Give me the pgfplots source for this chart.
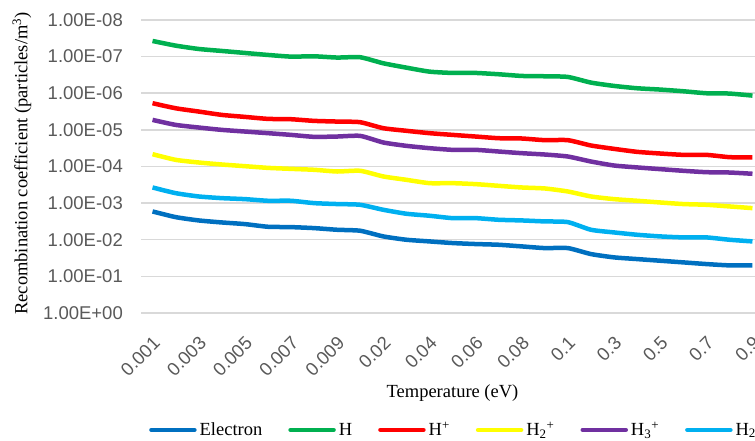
\documentclass[border=0pt]{standalone}
\usepackage{fontspec}
\setmainfont{Liberation Serif}
\setsansfont{Liberation Sans}
\usepackage{pgfplots}
\usepackage{pgfplotstable}
\pgfplotsset{compat=1.18}
\definecolor{cE}{HTML}{0070C0}
\definecolor{cH}{HTML}{00B050}
\definecolor{cHp}{HTML}{FF0000}
\definecolor{cHtwop}{HTML}{FFFF00}
\definecolor{cHthreep}{HTML}{7030A0}
\definecolor{cHtwo}{HTML}{00B0F0}
\definecolor{tickgray}{HTML}{595959}
\definecolor{gridgray}{HTML}{D9D9D9}
\pgfplotstableread{
idx e h hp htwop hthreep htwo
0 1.69e-3 3.74e-8 1.87e-6 4.61e-5 5.34e-6 3.74e-4
1 2.41e-3 5.01e-8 2.57e-6 6.58e-5 7.31e-6 5.34e-4
2 2.97e-3 6.18e-8 3.16e-6 7.78e-5 8.63e-6 6.58e-4
3 3.37e-3 7.0e-8 3.90e-6 8.82e-5 1.0e-5 7.31e-4
4 3.74e-3 7.94e-8 4.42e-6 9.8e-5 1.11e-5 7.78e-4
5 4.42e-3 9.0e-8 5.01e-6 1.09e-4 1.23e-5 8.63e-4
6 4.52e-3 1.0e-7 5.12e-6 1.16e-4 1.37e-5 8.63e-4
7 4.81e-3 9.8e-8 5.68e-6 1.23e-4 1.55e-5 1.0e-3
8 5.34e-3 1.06e-7 5.93e-6 1.37e-4 1.52e-5 1.06e-3
9 5.68e-3 1.04e-7 6.18e-6 1.31e-4 1.46e-5 1.11e-3
10 8.11e-3 1.52e-7 9.0e-6 1.87e-4 2.21e-5 1.52e-3
11 1.0e-2 2.0e-7 1.06e-5 2.31e-4 2.73e-5 1.95e-3
12 1.11e-2 2.57e-7 1.23e-5 2.85e-4 3.16e-5 2.21e-3
13 1.23e-2 2.79e-7 1.37e-5 2.85e-4 3.51e-5 2.57e-3
14 1.31e-2 2.79e-7 1.52e-5 3.03e-4 3.51e-5 2.57e-3
15 1.37e-2 3.03e-7 1.69e-5 3.37e-4 3.90e-5 2.85e-3
16 1.52e-2 3.37e-7 1.72e-5 3.74e-4 4.33e-5 2.97e-3
17 1.69e-2 3.44e-7 1.91e-5 3.98e-4 4.71e-5 3.16e-3
18 1.69e-2 3.59e-7 1.91e-5 4.81e-4 5.34e-5 3.30e-3
19 2.46e-2 5.12e-7 2.67e-5 6.58e-4 7.31e-5 5.34e-3
20 3.03e-2 6.31e-7 3.30e-5 7.78e-4 9.4e-5 6.31e-3
21 3.37e-2 7.31e-7 3.98e-5 8.63e-4 1.06e-4 7.31e-3
22 3.74e-2 7.94e-7 4.42e-5 9.6e-4 1.18e-4 8.11e-3
23 4.15e-2 8.82e-7 4.81e-5 1.06e-3 1.31e-4 8.63e-3
24 4.61e-2 1.0e-6 4.81e-5 1.11e-3 1.43e-4 8.63e-3
25 5.01e-2 1.02e-6 5.56e-5 1.23e-3 1.46e-4 1.0e-2
26 5.01e-2 1.16e-6 5.68e-5 1.37e-3 1.58e-4 1.11e-2
}\data
\begin{document}
\begin{tikzpicture}
\useasboundingbox (0,0) rectangle (755pt,441pt);
\clip (0,0) rectangle (755pt,441pt);
\begin{axis}[
  at={(141pt,128pt)}, anchor=south west,
  scale only axis, width=623pt, height=293pt,
  ymode=log, y dir=reverse, ymin=1e-8, ymax=1,
  xmin=-0.5, xmax=26.5,
  ytick={1e-8,1e-7,1e-6,1e-5,1e-4,1e-3,1e-2,1e-1,1},
  yticklabels={1.00E-08,1.00E-07,1.00E-06,1.00E-05,1.00E-04,1.00E-03,1.00E-02,1.00E-01,1.00E+00},
  xtick={0,2,...,26},
  xticklabels={0.001,0.003,0.005,0.007,0.009,0.02,0.04,0.06,0.08,0.1,0.3,0.5,0.7,0.9},
  /pgf/number format/assume math mode=true,
  ymajorgrids, xmajorgrids=false,
  major grid style={draw=gridgray, line width=1.5pt},
  axis line style={draw=none}, major tick length=0pt, minor tick length=0pt,
  tick label style={font=\fontsize{18.5}{22}\selectfont\sffamily, text=tickgray},
  yticklabel style={inner sep=0pt, anchor=east, xshift=-18pt},
  xticklabel style={inner sep=0pt, anchor=east, rotate=45, xshift=-16pt, yshift=-22pt},
  xlabel={Temperature (eV)},
  ylabel={Recombination coefficient (particles/m\textsuperscript{3})},
  every axis x label/.style={at={(axis description cs:0.5,0)}, anchor=center, yshift=-80pt, font=\fontsize{18.5}{22}\selectfont},
  every axis y label/.style={at={(axis description cs:0,0.5)}, anchor=center, xshift=-119pt, yshift=3pt, rotate=90, font=\fontsize{18.5}{22}\selectfont},
  legend columns=6,
  legend style={at={(axis description cs:0.0128,-0.399)}, anchor=west, draw=none, fill=none, inner sep=0pt,
    font=\fontsize{18.5}{22}\selectfont,
    nodes={inner sep=0pt},
    /tikz/every even column/.append style={column sep=26pt},
    /tikz/every odd column/.append style={column sep=3pt}},
  legend image code/.code={\draw[#1, line width=4.5pt, line cap=round] (2pt,0pt) -- (45pt,0pt);},
  every axis plot/.append style={line width=4.5pt, line join=round, smooth, tension=0.35},
]
\addplot[cE] table[x=idx,y=e]{\data};
\addlegendentry{Electron}
\addplot[cH] table[x=idx,y=h]{\data};
\addlegendentry{H}
\addplot[cHp] table[x=idx,y=hp]{\data};
\addlegendentry{H\textsuperscript{+}}
\addplot[cHtwop] table[x=idx,y=htwop]{\data};
\addlegendentry{H\textsubscript{2}\textsuperscript{+}}
\addplot[cHthreep] table[x=idx,y=hthreep]{\data};
\addlegendentry{H\textsubscript{3}\textsuperscript{+}}
\addplot[cHtwo] table[x=idx,y=htwo]{\data};
\addlegendentry{H\textsubscript{2}}
\end{axis}
\end{tikzpicture}
\end{document}
